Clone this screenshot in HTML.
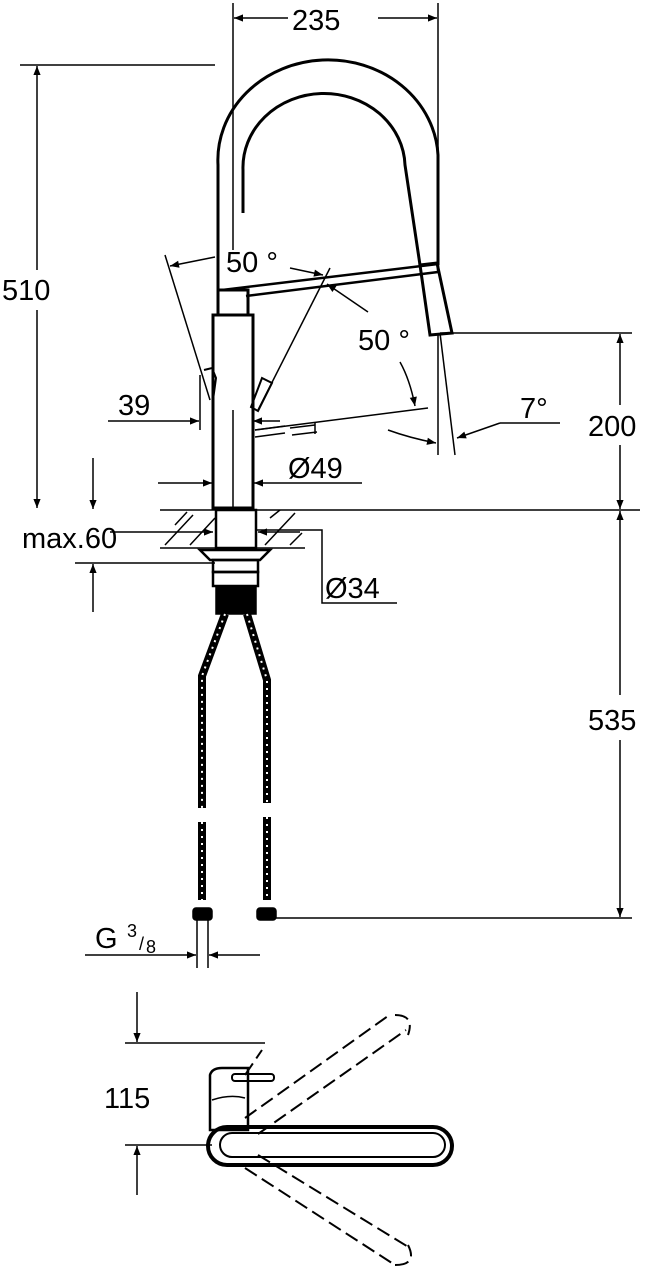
<!DOCTYPE html><html><head><style>body{margin:0;background:#fff}svg{display:block}text{font-family:"Liberation Sans",sans-serif;fill:#000}</style></head><body>
<svg width="652" height="1280" viewBox="0 0 652 1280" xmlns="http://www.w3.org/2000/svg">
<defs><marker id="a" viewBox="0 0 10 10" refX="10" refY="5" markerWidth="16" markerHeight="9" markerUnits="userSpaceOnUse" orient="auto-start-reverse"><path d="M0,1 L10,5 L0,9z" fill="#000"/></marker></defs>
<g stroke="#000" stroke-width="1.5" fill="none">
<line x1="233" y1="3" x2="233" y2="250"/><line x1="438" y1="3" x2="438" y2="150"/>
<line x1="234" y1="18" x2="288" y2="18" marker-start="url(#a)"/><line x1="378" y1="18" x2="437" y2="18" marker-end="url(#a)"/>
<line x1="20" y1="65" x2="215" y2="65"/><line x1="37" y1="66" x2="37" y2="270" marker-start="url(#a)"/><line x1="37" y1="310" x2="37" y2="508" marker-end="url(#a)"/>
<line x1="160" y1="510" x2="640" y2="510"/>
<line x1="440" y1="333" x2="632" y2="333"/><line x1="272" y1="918" x2="632" y2="918"/>
<line x1="620" y1="334" x2="620" y2="405" marker-start="url(#a)"/><line x1="620" y1="445" x2="620" y2="509" marker-end="url(#a)"/>
<line x1="620" y1="511" x2="620" y2="695" marker-start="url(#a)"/><line x1="620" y1="740" x2="620" y2="917" marker-end="url(#a)"/>
<path d="M218,290 L218,165 A110,100 0 0 1 438,155 L438,265" stroke-width="3"/>
<path d="M243,230 L243,170 A81,74 0 0 1 405,165 L420,265" stroke-width="3"/>
<line x1="243" y1="213" x2="243" y2="232" stroke="#fff" stroke-width="4"/>
<path d="M420,265 L437,263 L452,333 L430,335 Z" stroke-width="3"/>
<path d="M222,290 L438,264 L438,272 L246,296" stroke-width="2.5"/>
<rect x="218" y="290" width="30" height="25" stroke-width="3"/>
<rect x="213" y="315" width="40" height="193" stroke-width="3"/>
<line x1="233" y1="410" x2="233" y2="508"/>
<line x1="165" y1="255" x2="210" y2="400"/>
<line x1="170" y1="266" x2="215" y2="257" marker-start="url(#a)"/>
<line x1="330" y1="268" x2="258" y2="410"/><path d="M262,378 l10,5 l-14,28 l-7,-4z" stroke-width="2"/>
<line x1="290" y1="268" x2="323" y2="275" marker-end="url(#a)"/><line x1="368" y1="312" x2="327" y2="284" marker-end="url(#a)"/>
<line x1="255" y1="430" x2="428" y2="408"/>
<path d="M400,362 Q410,380 415,406" marker-end="url(#a)"/>
<path d="M255,430 l30,-4 M255,437 l30,-4 M290,428 l25,-3 M292,435 l25,-3 M315,422 v12" />
<path d="M204,370 l8,-2 l4,10 l-3,22" stroke-width="2"/>
<line x1="440" y1="333" x2="455" y2="455"/><line x1="438" y1="335" x2="438" y2="455"/>
<path d="M388,430 Q410,438 436,443" marker-end="url(#a)"/>
<line x1="560" y1="423" x2="500" y2="423"/><line x1="500" y1="423" x2="457" y2="438" marker-end="url(#a)"/>
<line x1="200" y1="375" x2="200" y2="430"/>
<line x1="108" y1="421" x2="199" y2="421" marker-end="url(#a)"/>
<line x1="280" y1="421" x2="253" y2="421" marker-end="url(#a)"/>
<line x1="158" y1="483" x2="212" y2="483" marker-end="url(#a)"/>
<line x1="362" y1="483" x2="254" y2="483" marker-end="url(#a)"/>
<line x1="160" y1="548" x2="305" y2="548"/>
<path d="M165,545 l28,-30 M190,545 l25,-27 M265,545 l30,-32 M290,545 l12,-12 M270,518 l10,-8 M175,525 l12,-13" />
<line x1="110" y1="532" x2="213" y2="532" marker-end="url(#a)"/>
<line x1="300" y1="532" x2="258" y2="532" marker-end="url(#a)"/>
<line x1="93" y1="458" x2="93" y2="509" marker-end="url(#a)"/>
<line x1="93" y1="612" x2="93" y2="564" marker-end="url(#a)"/>
<line x1="75" y1="563" x2="215" y2="563"/>
<path d="M255,530 L322,530 L322,603 L397,603"/>
<rect x="216" y="510" width="40" height="38" fill="#fff" stroke-width="2.5"/>
<path d="M200,550 L270,550 L260,560 L210,560 Z" stroke-width="2.5"/>
<rect x="213" y="560" width="45" height="12" stroke-width="2.5"/><rect x="213" y="572" width="45" height="14" stroke-width="2.5"/>
<rect x="216" y="586" width="40" height="28" fill="#000"/>
<g stroke-width="8"><path d="M225,614 L202,676 L202,808"/><path d="M202,822 L202,900"/><path d="M247,614 L267,680 L267,803"/><path d="M267,817 L267,900"/></g>
<g stroke="#fff" stroke-width="2" stroke-dasharray="2,5"><path d="M225,614 L202,676 L202,808"/><path d="M202,822 L202,900"/><path d="M247,614 L267,680 L267,803"/><path d="M267,817 L267,900"/></g>
<rect x="193" y="908" width="19" height="12" rx="3" fill="#000"/><rect x="257" y="908" width="19" height="12" rx="3" fill="#000"/>
<line x1="197" y1="920" x2="197" y2="968"/><line x1="208" y1="920" x2="208" y2="968"/>
<line x1="85" y1="955" x2="196" y2="955" marker-end="url(#a)"/><line x1="260" y1="955" x2="209" y2="955" marker-end="url(#a)"/>
<line x1="125" y1="1043" x2="265" y2="1043"/><line x1="125" y1="1145" x2="212" y2="1145"/>
<line x1="137" y1="992" x2="137" y2="1042" marker-end="url(#a)"/><line x1="137" y1="1195" x2="137" y2="1146" marker-end="url(#a)"/>
<g stroke-dasharray="14,6" stroke-width="2"><path d="M245,1118 L388,1016 M258,1134 L406,1030 M395,1015 Q415,1015 408,1035"/><path d="M245,1168 L395,1265 M258,1155 L410,1248 M395,1265 Q418,1265 408,1245"/><path d="M245,1075 L262,1050"/></g>
<path d="M210,1092 L210,1075 Q212,1068 222,1068 L248,1068 L248,1130 L210,1130 Z" stroke-width="2.5"/>
<rect x="232" y="1074" width="42" height="7" rx="3" stroke-width="2"/>
<path d="M212,1100 Q230,1094 245,1098" />
<rect x="208" y="1127" width="244" height="38" rx="19" stroke-width="4"/>
<rect x="220" y="1133" width="225" height="24" rx="12" stroke-width="2"/>
</g>
<g font-size="29">
<text x="292" y="30">235</text>
<text x="2" y="300">510</text>
<text x="226" y="272">50 °</text>
<text x="358" y="350">50 °</text>
<text x="520" y="418">7°</text>
<text x="588" y="436">200</text>
<text x="118" y="415">39</text>
<text x="288" y="478">Ø49</text>
<text x="22" y="548">max.60</text>
<text x="325" y="598">Ø34</text>
<text x="588" y="730">535</text>
<text x="95" y="948">G</text><text x="127" y="937" font-size="18">3</text><text x="139" y="950" font-size="18">/</text><text x="146" y="953" font-size="18">8</text>
<text x="104" y="1108">115</text>
</g>
</svg></body></html>
